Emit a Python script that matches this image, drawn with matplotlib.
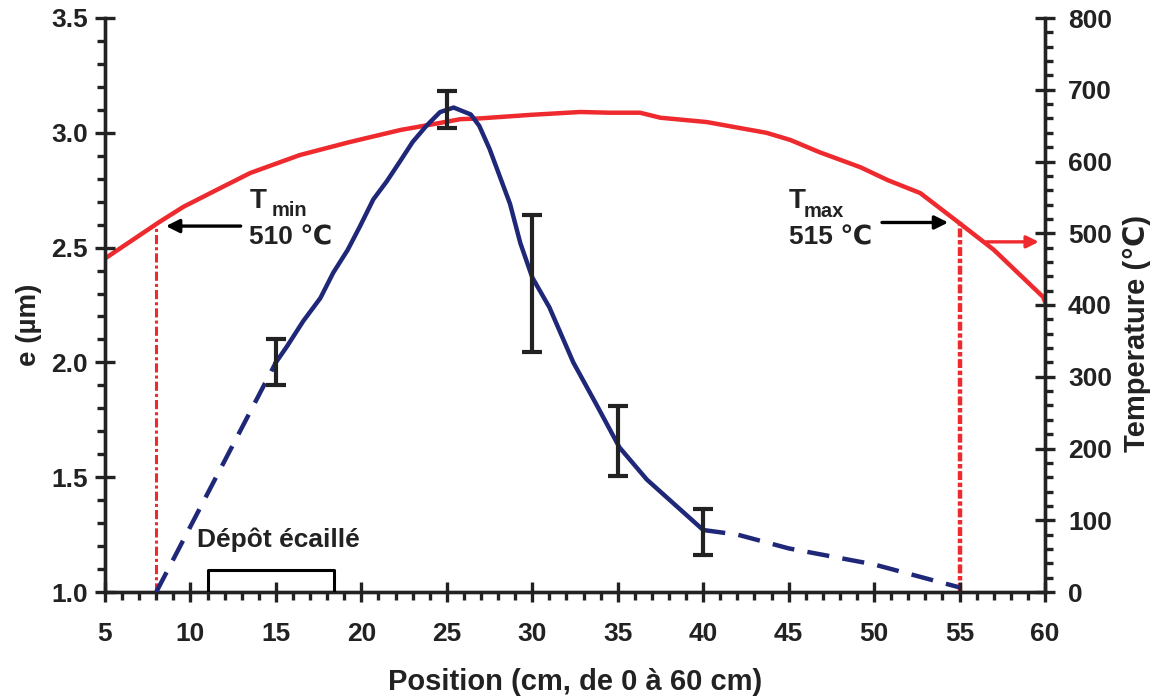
import numpy as np
import matplotlib.pyplot as plt
from matplotlib.ticker import MultipleLocator

plt.rcParams['font.family'] = ['Liberation Sans', 'DejaVu Sans']
plt.rcParams['font.weight'] = 'bold'

# ================== data ==================
# temperature profile (right axis, degC)
temp_x = [4.7, 8.2, 9.6, 11.5, 13.5, 16.4, 19.3, 22.3, 24.2, 25.8, 26.9, 29.9, 32.8,
          34.5, 36.3, 37.5, 40.2, 43.7, 45.1, 46.8, 49.2, 50.8, 52.7, 55, 57, 59.9, 60]
temp_y = [460, 516, 537, 560, 584, 609, 627, 644, 652, 659, 660, 665, 669,
          668, 668, 661, 655, 640, 630, 613, 592, 574, 556, 514, 477, 411, 404]

# thickness e (left axis, um) - measured part (solid)
e_x = [15, 15.65, 16.6, 17.6, 18.35, 19.2, 19.9, 20.7, 21.5, 22.3, 23, 23.8, 24.6, 25.4,
       26.4, 26.9, 27.5, 28.1, 28.7, 29.3, 30, 31, 32.4, 33.8, 35.1, 36.7, 38.2, 40]
e_y = [2.0, 2.07, 2.18, 2.28, 2.39, 2.49, 2.59, 2.71, 2.79, 2.88, 2.96, 3.03, 3.09, 3.11,
       3.08, 3.03, 2.93, 2.81, 2.69, 2.52, 2.37, 2.24, 2.0, 1.81, 1.63, 1.49, 1.39, 1.27]
# extrapolated parts (dashed)
ext_left_x = [8, 15]
ext_left_y = [1.0, 2.0]
ext_right_x = [40, 42, 45, 50, 55]
ext_right_y = [1.27, 1.25, 1.19, 1.12, 1.02]

# error bars
err_x = [15, 25, 30, 35, 40]
err_lo = [1.90, 3.02, 2.045, 1.505, 1.16]
err_hi = [2.10, 3.18, 2.64, 1.81, 1.36]

t_min_x, t_min = 8, 510
t_max_x, t_max = 55, 515

bracket_x = [11, 11, 18.4, 18.4]
bracket_y = [1.0, 1.097, 1.097, 1.0]

RED = '#ee2a2e'
BLUE = '#1f2878'
INK = '#222222'

fig = plt.figure(figsize=(11.59, 6.97), dpi=100)
ax = fig.add_axes([105 / 1159, 105 / 697, 940 / 1159, 574 / 697])
ax2 = ax.twinx()

ax.set_xlim(5, 60)
ax.set_ylim(1.0, 3.5)
ax2.set_ylim(0, 800)

# temperature curve
ax2.plot(temp_x, temp_y, color=RED, lw=3.2, zorder=3, clip_on=True)
ax2.plot([t_min_x, t_min_x], [0, t_min], color=RED, lw=2.2, ls=(0, (3, 1, 1, 1)))
ax2.plot([t_max_x, t_max_x], [0, t_max], color=RED, lw=3.2, ls=(0, (2, 0.6, 1, 0.6)))

# thickness
ax.plot(e_x, e_y, color=BLUE, lw=3.2, zorder=4)
ax.plot(ext_left_x, ext_left_y, color=BLUE, lw=3.2, dashes=(5, 3), zorder=4)
ax.plot(ext_right_x, ext_right_y, color=BLUE, lw=3.2, dashes=(5, 3), zorder=4)
ax.set_zorder(ax2.get_zorder() + 1)
ax.patch.set_visible(False)

for x, lo, hi in zip(err_x, err_lo, err_hi):
    ax.errorbar([x], [(lo + hi) / 2], yerr=[[(hi - lo) / 2], [(hi - lo) / 2]], fmt='none',
                ecolor=INK, elinewidth=3, capsize=7, capthick=3, zorder=5)

# flaked deposit bracket
ax.plot(bracket_x, bracket_y, color='black', lw=2.2, zorder=5)
ax.text(10.4, 1.226, 'Dépôt écaillé', fontsize=19, fontweight='bold', va='center', color=INK)

# annotations
ax2.annotate('', xy=(8.4, t_min), xytext=(13.1, t_min),
             arrowprops=dict(arrowstyle='-|>', color='black', lw=2.4, mutation_scale=20))
ax2.text(13.45, 535, 'T', fontsize=20, va='baseline', color=INK)
ax2.text(14.75, 524, 'min', fontsize=14.5, va='baseline', color=INK)
ax2.text(13.45, 484, '510 ℃', fontsize=19, va='baseline', color=INK)
ax2.annotate('', xy=(54.5, t_max), xytext=(50.3, t_max),
             arrowprops=dict(arrowstyle='-|>', color='black', lw=2.4, mutation_scale=20))
ax2.text(45.0, 535, 'T', fontsize=20, va='baseline', color=INK)
ax2.text(45.85, 523, 'max', fontsize=14.5, va='baseline', color=INK)
ax2.text(45.0, 484, '515 ℃', fontsize=19, va='baseline', color=INK)
ax2.annotate('', xy=(59.8, 488), xytext=(56.4, 488),
             arrowprops=dict(arrowstyle='-|>', color=RED, lw=2.4, mutation_scale=18))

# axes styling
for a in (ax, ax2):
    a.spines['top'].set_visible(False)
    for s in a.spines.values():
        s.set_linewidth(2.4)
        s.set_color(INK)

ax.xaxis.set_major_locator(MultipleLocator(5))
ax.xaxis.set_minor_locator(MultipleLocator(1))
ax.yaxis.set_major_locator(MultipleLocator(0.5))
ax.yaxis.set_minor_locator(MultipleLocator(0.1))
ax2.yaxis.set_major_locator(MultipleLocator(100))
ax2.yaxis.set_minor_locator(MultipleLocator(20))
ax.yaxis.set_major_formatter(lambda v, p: f'{v:.1f}')

ax.tick_params(which='major', direction='inout', length=15, width=2.4, color=INK,
               labelsize=19, labelcolor=INK)
ax.tick_params(which='minor', direction='out', length=6, width=2.4, color=INK)
ax.tick_params(axis='x', which='major', pad=14)
ax.tick_params(axis='y', which='major', pad=5)
ax2.tick_params(which='major', direction='inout', length=15, width=2.4, color=INK,
                labelsize=19, labelcolor=INK, pad=9)
ax2.tick_params(which='minor', direction='out', length=6, width=2.4, color=INK)
for lab in ax.get_xticklabels() + ax.get_yticklabels() + ax2.get_yticklabels():
    lab.set_fontweight('bold')

ax.set_xlabel('Position (cm, de 0 à 60 cm)', fontsize=21, fontweight='bold', color=INK)
ax.set_ylabel('e (µm)', fontsize=20, fontweight='bold', color=INK)
ax2.set_ylabel('Temperature (℃)', fontsize=21, fontweight='bold', color=INK)
ax.xaxis.set_label_coords(0.5, -0.132)
ax.yaxis.set_label_coords(-0.067, 0.465)
ax2.yaxis.set_label_coords(1.083, 0.45)

fig.savefig('out.png', dpi=100)
